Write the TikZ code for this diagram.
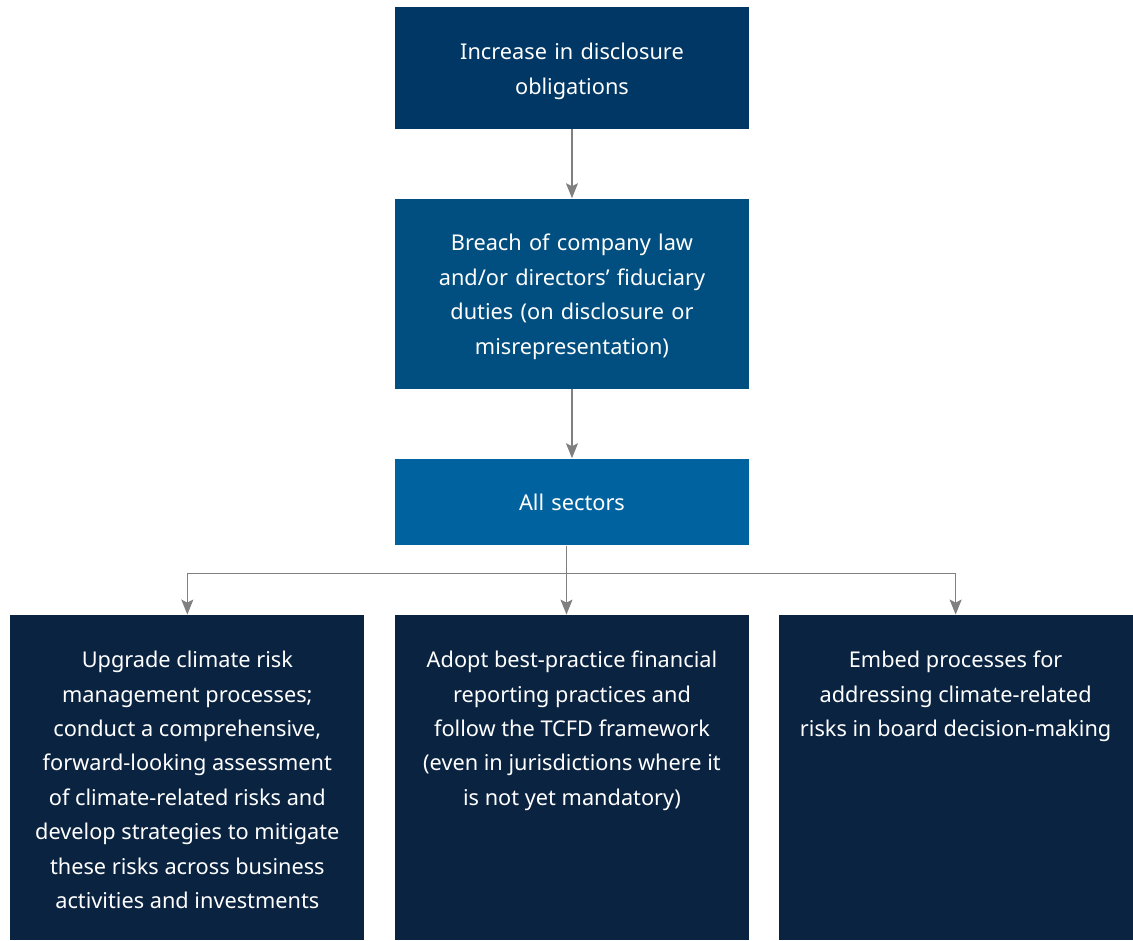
\documentclass[tikz,border=0pt]{standalone}
\usepackage{fontspec}
\setmainfont{Noto Sans}
\usepackage{tikz}
\usetikzlibrary{shapes,arrows,arrows.meta,positioning,calc}
\usepackage{xcolor}

\definecolor{topblue}{HTML}{003764}
\definecolor{midblue}{HTML}{004F80}
\definecolor{lightblue}{HTML}{0063A0}
\definecolor{navy}{HTML}{0A2341}
\definecolor{linegray}{HTML}{808080}

\newcommand{\toptext}[1]{\parbox[c][163pt][t]{172pt}{\centering\rule{0pt}{26.5pt}#1}}
\newcommand{\lowstrut}{\rule{0pt}{11.3pt}}

\begin{document}
\begin{tikzpicture}[
    node distance=34.5pt and 15pt,
    box/.style={rectangle, text=white, text width=172pt, align=center, minimum width=177.5pt, inner sep=0pt, font=\fontsize{10.9}{17.25}\selectfont},
    actionbox/.style={rectangle, fill=navy, text=white, minimum width=177.5pt, inner sep=0pt, font=\fontsize{10.9}{17.25}\selectfont},
    arrow/.style={-{Stealth[length=7.5pt, width=6pt, inset=1.5pt]}, draw=linegray, line width=0.8pt}
]

% Nodes
\node[box, fill=topblue, minimum height=61pt] (increase) {\lowstrut Increase in disclosure\\obligations};
\node[box, fill=midblue, minimum height=95.5pt, below=of increase] (breach) {\lowstrut Breach of company law\\and/or directors’ fiduciary\\duties (on disclosure or\\misrepresentation)};
\node[box, fill=lightblue, minimum height=43.5pt, below=of breach] (sectors) {All sectors};
\node[actionbox, below=of sectors] (adopt) {\toptext{Adopt best-practice financial\\reporting practices and\\follow the TCFD framework\\(even in jurisdictions where it\\is not yet mandatory)}};
\node[actionbox, left=of adopt] (upgrade) {\toptext{Upgrade climate risk\\management processes;\\conduct a comprehensive,\\forward-looking assessment\\of climate-related risks and\\develop strategies to mitigate\\these risks across business\\activities and investments}};
\node[actionbox, right=14.5pt of adopt] (embed) {\toptext{Embed processes for\\addressing climate-related\\risks in board decision-making}};

% Arrows
\draw[arrow] (increase) -- (breach);
\draw[arrow] (breach) -- (sectors);
\coordinate (split) at ($(sectors.south)+(-2.75pt,-14pt)$);
\draw[arrow] (sectors.south -| split) -- (adopt.north -| split);
\draw[arrow] (split) -| (upgrade.north);
\draw[arrow] (split) -| (embed.north);

\useasboundingbox ($(upgrade.south west)+(-5pt,0)$) rectangle ($(embed.east |- increase.north)+(0,3.5pt)$);

\end{tikzpicture}
\end{document}
